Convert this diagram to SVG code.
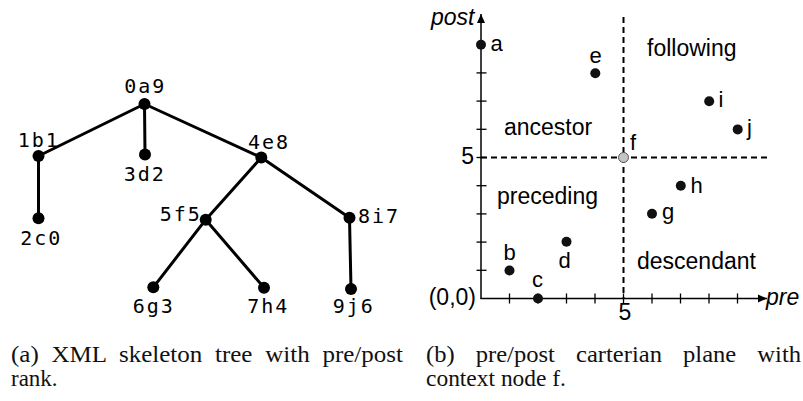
<svg xmlns="http://www.w3.org/2000/svg" width="803" height="401" viewBox="0 0 803 401">
<defs>
<style>
.edge{stroke:#000;stroke-width:3;fill:none;stroke-linecap:round}
.tdot{fill:#000}
.tl{font-family:"DejaVu Sans Mono",monospace;font-size:20px;letter-spacing:2px;text-anchor:middle;fill:#000}
.axis{stroke:#000;stroke-width:1.5;fill:none}
.tick{stroke:#000;stroke-width:1.3}
.dash{stroke:#000;stroke-width:2;stroke-dasharray:6 4;fill:none}
.pdot{fill:#111}
.pl{font-family:"Liberation Sans",Arial,sans-serif;font-size:22px;fill:#000}
.rl{font-family:"Liberation Sans",Arial,sans-serif;font-size:23px;fill:#000}
.it{font-style:italic}
.cap{font-family:"Liberation Serif","Times New Roman",serif;font-size:23px;fill:#111}
</style>
<marker id="arr" markerUnits="userSpaceOnUse" markerWidth="10" markerHeight="10" viewBox="0 0 10 10" refX="9" refY="5" orient="auto">
<path d="M0,1 L9,5 L0,9 Z" fill="#000"/>
</marker>
</defs>

<!-- (a) tree -->
<g id="connectors">
<line class="edge" x1="144.5" y1="104" x2="38.5" y2="156"/>
<line class="edge" x1="144.5" y1="104" x2="145" y2="154.5"/>
<line class="edge" x1="144.5" y1="104" x2="261.3" y2="157.5"/>
<line class="edge" x1="38.5" y1="156" x2="38.5" y2="218.3"/>
<line class="edge" x1="261.3" y1="157.5" x2="205.7" y2="219.7"/>
<line class="edge" x1="261.3" y1="157.5" x2="349.5" y2="217.8"/>
<line class="edge" x1="205.7" y1="219.7" x2="153.3" y2="287.3"/>
<line class="edge" x1="205.7" y1="219.7" x2="264" y2="287.7"/>
<line class="edge" x1="349.5" y1="217.8" x2="351" y2="289"/>
</g>
<g id="n-a"><circle class="tdot" cx="144.5" cy="104" r="6"/><text class="tl" x="145.2" y="93">0a9</text></g>
<g id="n-b"><circle class="tdot" cx="38.5" cy="156" r="6"/><text class="tl" x="38.8" y="146.7">1b1</text></g>
<g id="n-d"><circle class="tdot" cx="145" cy="154.5" r="6"/><text class="tl" x="144.8" y="180.7">3d2</text></g>
<g id="n-e"><circle class="tdot" cx="261.3" cy="157.5" r="6"/><text class="tl" x="269" y="149">4e8</text></g>
<g id="n-c"><circle class="tdot" cx="38.5" cy="218.3" r="6"/><text class="tl" x="41.3" y="245">2c0</text></g>
<g id="n-f"><circle class="tdot" cx="205.7" cy="219.7" r="6"/><text class="tl" x="180.7" y="221">5f5</text></g>
<g id="n-i"><circle class="tdot" cx="349.5" cy="217.8" r="6"/><text class="tl" x="379" y="222.7">8i7</text></g>
<g id="n-g"><circle class="tdot" cx="153.3" cy="287.3" r="6"/><text class="tl" x="153.7" y="313">6g3</text></g>
<g id="n-h"><circle class="tdot" cx="264" cy="287.7" r="6"/><text class="tl" x="268.3" y="313">7h4</text></g>
<g id="n-j"><circle class="tdot" cx="351" cy="289" r="6"/><text class="tl" x="353.7" y="313">9j6</text></g>

<!-- (b) pre/post plane -->
<g id="plane">
<line class="dash" x1="623.5" y1="17" x2="623.5" y2="298.5"/>
<line class="dash" x1="481" y1="157.5" x2="767" y2="157.5"/>
<line class="axis" x1="481" y1="299" x2="481" y2="14" marker-end="url(#arr)"/>
<line class="axis" x1="480.5" y1="298.5" x2="767" y2="298.5" marker-end="url(#arr)"/>
<g id="ticks">
<line class="tick" x1="476.5" y1="270.3" x2="486.5" y2="270.3"/>
<line class="tick" x1="476.5" y1="242.1" x2="486.5" y2="242.1"/>
<line class="tick" x1="476.5" y1="213.9" x2="486.5" y2="213.9"/>
<line class="tick" x1="476.5" y1="185.7" x2="486.5" y2="185.7"/>
<line class="tick" x1="476.5" y1="157.5" x2="486.5" y2="157.5"/>
<line class="tick" x1="476.5" y1="129.3" x2="486.5" y2="129.3"/>
<line class="tick" x1="476.5" y1="101.1" x2="486.5" y2="101.1"/>
<line class="tick" x1="476.5" y1="72.9" x2="486.5" y2="72.9"/>
<line class="tick" x1="509.5" y1="293.5" x2="509.5" y2="303.5"/>
<line class="tick" x1="538" y1="293.5" x2="538" y2="303.5"/>
<line class="tick" x1="566.5" y1="293.5" x2="566.5" y2="303.5"/>
<line class="tick" x1="595" y1="293.5" x2="595" y2="303.5"/>
<line class="tick" x1="623.5" y1="293.5" x2="623.5" y2="303.5"/>
<line class="tick" x1="652" y1="293.5" x2="652" y2="303.5"/>
<line class="tick" x1="680.5" y1="293.5" x2="680.5" y2="303.5"/>
<line class="tick" x1="709" y1="293.5" x2="709" y2="303.5"/>
<line class="tick" x1="737.5" y1="293.5" x2="737.5" y2="303.5"/>
</g>
<text class="rl it" x="474.5" y="25" text-anchor="end">post</text>
<text class="rl it" x="766" y="305">pre</text>
<text class="rl" x="476" y="305" text-anchor="end">(0,0)</text>
<text class="rl" x="474" y="164" text-anchor="end">5</text>
<text class="rl" x="625" y="319.5" text-anchor="middle">5</text>
<text class="rl" x="647" y="56">following</text>
<text class="rl" x="504" y="135">ancestor</text>
<text class="rl" x="497" y="203.5">preceding</text>
<text class="rl" x="637" y="269">descendant</text>
</g>
<g id="p-a"><circle class="pdot" cx="481" cy="44.7" r="5"/><text class="pl" x="490.5" y="51">a</text></g>
<g id="p-b"><circle class="pdot" cx="509.5" cy="270.5" r="5"/><text class="pl" x="503.5" y="260">b</text></g>
<g id="p-c"><circle class="pdot" cx="538" cy="298.5" r="5"/><text class="pl" x="532" y="287">c</text></g>
<g id="p-d"><circle class="pdot" cx="566.5" cy="241.8" r="5"/><text class="pl" x="558.5" y="268">d</text></g>
<g id="p-e"><circle class="pdot" cx="595.3" cy="73.2" r="5"/><text class="pl" x="589.5" y="63">e</text></g>
<g id="p-f"><circle cx="623.5" cy="157.5" r="5" fill="#c4c4c4" stroke="#555" stroke-width="1"/><text class="pl" x="630" y="150">f</text></g>
<g id="p-g"><circle class="pdot" cx="652" cy="213.8" r="5"/><text class="pl" x="662" y="218.5">g</text></g>
<g id="p-h"><circle class="pdot" cx="680.8" cy="185.8" r="5"/><text class="pl" x="690.5" y="193">h</text></g>
<g id="p-i"><circle class="pdot" cx="709.2" cy="101.3" r="5"/><text class="pl" x="718.5" y="106.5">i</text></g>
<g id="p-j"><circle class="pdot" cx="737.7" cy="129.4" r="5"/><text class="pl" x="747" y="135">j</text></g>

<!-- captions -->
<text class="cap" x="11" y="362" word-spacing="6" textLength="392" lengthAdjust="spacingAndGlyphs">(a) XML skeleton tree with pre/post</text>
<text class="cap" x="11" y="386">rank.</text>
<text class="cap" x="426" y="362" word-spacing="14" textLength="375" lengthAdjust="spacingAndGlyphs">(b) pre/post carterian plane with</text>
<text class="cap" x="426" y="386" textLength="140" lengthAdjust="spacingAndGlyphs">context node f.</text>
</svg>
